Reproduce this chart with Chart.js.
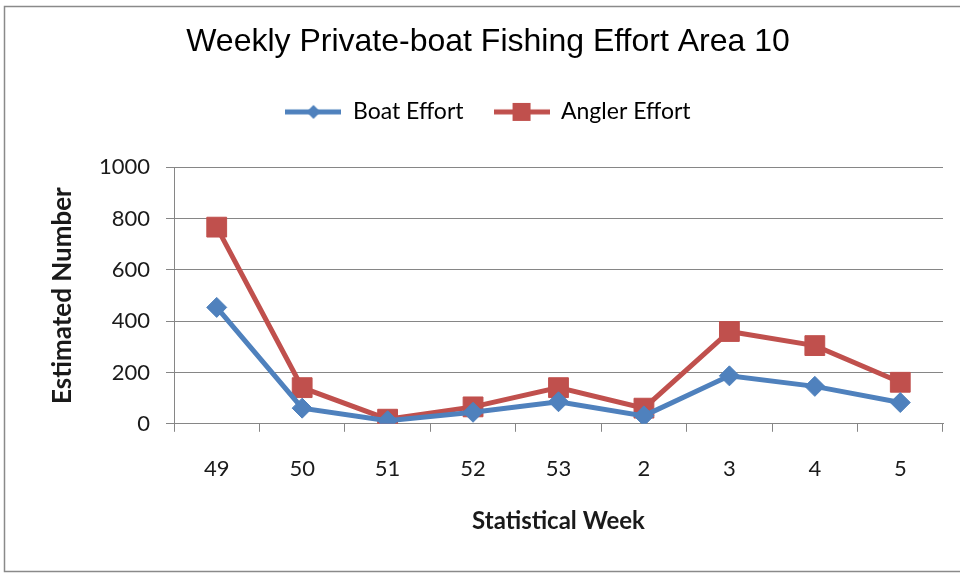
<!DOCTYPE html>
<html>
<head>
<meta charset="utf-8">
<script src="https://cdn.jsdelivr.net/npm/chart.js@4.4.0/dist/chart.umd.min.js"></script>
<style>
  html, body { margin: 0; padding: 0; background: #fff; }
  .wrap { width: 960px; height: 573px; }
</style>
</head>
<body>
<div class="wrap"><canvas id="graf"></canvas></div>
<script>
const weeks = ['49', '50', '51', '52', '53', '2', '3', '4', '5'];
const boatEffort = [454, 61, 12, 45, 86, 31, 187, 146, 83];
const anglerEffort = [767, 141, 18, 66, 141, 61, 360, 305, 162];
const yTicks = [0, 200, 400, 600, 800, 1000];

const blue = '#4F81BD';
const red = '#C0504D';
const gridGray = '#868686';

Chart.defaults.font.family = 'Lato';
Chart.defaults.color = '#1a1a1a';

// legend swatch: short line with the marker in the middle
function swatch(color, style) {
    const c = document.createElement('canvas');
    c.width = 56;
    c.height = 22;
    const g = c.getContext('2d');
    g.strokeStyle = color;
    g.lineWidth = 5;
    g.beginPath();
    g.moveTo(0, 11);
    g.lineTo(56, 11);
    g.stroke();
    g.fillStyle = color;
    g.beginPath();
    if (style === 'diamond') {
        g.moveTo(28, 4); g.lineTo(35, 11); g.lineTo(28, 18); g.lineTo(21, 11);
    } else {
        g.rect(19, 2, 18, 18);
    }
    g.closePath();
    g.fill();
    return c;
}

const frame = {
    id: 'frame',
    beforeDraw(chart) {
        const c = chart.ctx;
        c.save();
        c.fillStyle = '#fff';
        c.fillRect(0, 0, chart.width, chart.height);
        c.strokeStyle = '#8a8a8a';
        c.lineWidth = 1.5;
        c.strokeRect(4.5, 6.5, 975, 565);
        c.restore();
    }
};

// extra room under the legend
const legendGap = {
    id: 'legendGap',
    beforeInit(chart) {
        const fit = chart.legend.fit;
        chart.legend.fit = function () {
            fit.bind(chart.legend)();
            this.height += 34;
        };
    }
};

const ctx = document.querySelector('#graf');

let myChart = new Chart(ctx, {
    type: 'line',
    data: {
        labels: weeks,
        datasets: [{
            label: 'Boat Effort',
            data: boatEffort,
            borderColor: blue,
            backgroundColor: blue,
            borderWidth: 5,
            tension: 0,
            pointStyle: 'rectRot',
            pointRadius: 10,
            pointHoverRadius: 10,
            pointBorderWidth: 1,
            pointBackgroundColor: blue,
            pointBorderColor: blue
        }, {
            label: 'Angler Effort',
            data: anglerEffort,
            borderColor: red,
            backgroundColor: red,
            borderWidth: 5,
            tension: 0,
            pointStyle: 'rect',
            pointRadius: 14,
            pointHoverRadius: 14,
            pointBorderWidth: 1,
            pointBackgroundColor: red,
            pointBorderColor: red
        }]
    },
    options: {
        responsive: true,
        maintainAspectRatio: false,
        animation: false,
        layout: {
            padding: { top: 8, left: 33, right: 17, bottom: 10 }
        },
        plugins: {
            title: {
                display: true,
                text: 'Weekly Private-boat Fishing Effort Area 10',
                color: '#000',
                font: { family: 'Liberation Sans', size: 32, weight: 'normal' },
                padding: { top: 15, bottom: 9 }
            },
            legend: {
                display: true,
                labels: {
                    usePointStyle: true,
                    pointStyleWidth: 56,
                    boxHeight: 22,
                    padding: 30,
                    color: '#1a1a1a',
                    font: { size: 23 },
                    generateLabels(chart) {
                        return [
                            { text: 'Boat Effort', pointStyle: swatch(blue, 'diamond'), datasetIndex: 0, lineWidth: 0, fillStyle: blue, strokeStyle: blue },
                            { text: 'Angler Effort', pointStyle: swatch(red, 'square'), datasetIndex: 1, lineWidth: 0, fillStyle: red, strokeStyle: red }
                        ];
                    }
                }
            },
            tooltip: { enabled: false }
        },
        scales: {
            x: {
                offset: true,
                grid: {
                    offset: true,
                    drawOnChartArea: false,
                    color: gridGray,
                    tickLength: 8
                },
                border: { display: true, color: gridGray, width: 1 },
                ticks: {
                    padding: 24,
                    maxRotation: 0,
                    font: { size: 22 }
                },
                title: {
                    display: true,
                    text: 'Statistical Week',
                    font: { size: 24, weight: 'bold' },
                    padding: { top: 1, bottom: 27 }
                }
            },
            y: {
                min: 0,
                max: 1000,
                afterFit(scale) { scale.width = 141; },
                afterBuildTicks(scale) { scale.ticks = yTicks.map(v => ({ value: v })); },
                grid: {
                    color: gridGray,
                    tickLength: 8
                },
                border: { display: true, color: gridGray, width: 1 },
                ticks: {
                    padding: 16,
                    font: { size: 22 },
                    callback: v => String(v)
                },
                title: {
                    display: true,
                    text: 'Estimated Number',
                    font: { size: 26, weight: 'bold' },
                    padding: { top: 14, bottom: 0 }
                }
            }
        }
    },
    plugins: [frame, legendGap]
});
</script>
</body>
</html>
